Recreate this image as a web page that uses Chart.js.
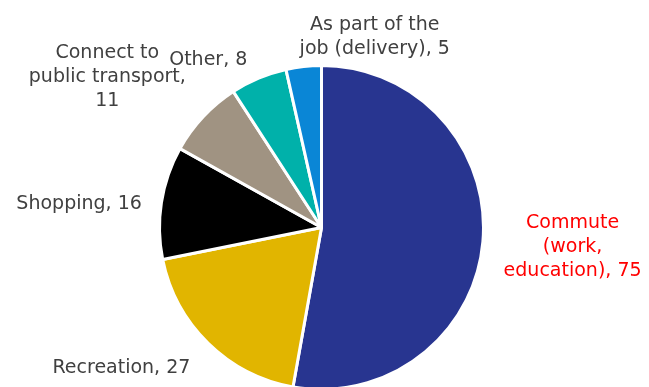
<!DOCTYPE html>
<html>
<head>
<meta charset="utf-8">
<script src="https://cdn.jsdelivr.net/npm/chart.js@4"></script>
<style>
  html, body { margin: 0; padding: 0; background: #fff; overflow: hidden; }
  #wrap { width: 649px; height: 387px; overflow: hidden; }
</style>
</head>
<body>
<div id="wrap"><canvas id="myChart" width="649" height="400"></canvas></div>
<script>
const categories = [
    'Commute (work, education)',
    'Recreation',
    'Shopping',
    'Connect to public transport',
    'Other',
    'As part of the job (delivery)'
];
const trips = [75, 27, 16, 11, 8, 5];
const sliceColors = ['#283590', '#E1B500', '#000000', '#A09382', '#00B1AA', '#0A86D6'];

// label text lines, broken the way they are drawn
const labelLines = [
    ['Commute', '(work,', 'education), 75'],
    ['Recreation, 27'],
    ['Shopping, 16'],
    ['Connect to', 'public transport,', '11'],
    ['Other, 8'],
    ['As part of the', 'job (delivery), 5']
];
// label anchor: offset from slice mid-angle point on the rim
const labelPlace = [
    { r: 72, dx: 18, dy: -1 },
    { r: 14, dx: -77, dy: 15 },
    { r: 55, dx: -28, dy: 10 },
    { r: 30, dx: -74, dy: -19 },
    { r: 32, dx: -38, dy: 11 },
    { r: 26, dx: 74, dy: -4 }
];

const sliceLabels = {
    id: 'sliceLabels',
    afterDatasetsDraw(chart) {
        const c = chart.ctx;
        const meta = chart.getDatasetMeta(0);
        c.save();
        c.font = '19px "DejaVu Sans", sans-serif';
        c.textAlign = 'center';
        c.textBaseline = 'middle';
        meta.data.forEach((arc, i) => {
            const p = arc.getProps(['x', 'y', 'startAngle', 'endAngle', 'outerRadius']);
            const mid = (p.startAngle + p.endAngle) / 2;
            const pl = labelPlace[i];
            const rr = p.outerRadius + pl.r;
            let x = p.x + Math.cos(mid) * rr + pl.dx;
            let y = p.y + Math.sin(mid) * rr + pl.dy;
            const lines = labelLines[i];
            const lh = 24;
            c.fillStyle = i === 0 ? '#FF0000' : '#404040';
            lines.forEach((t, k) => {
                c.fillText(t, x, y + (k - (lines.length - 1) / 2) * lh);
            });
        });
        c.restore();
    }
};

const ctx = document.getElementById('myChart');

new Chart(ctx, {
    type: 'pie',
    data: {
        labels: categories,
        datasets: [{
            data: trips,
            backgroundColor: sliceColors,
            borderColor: '#ffffff',
            borderWidth: 3
        }]
    },
    options: {
        responsive: false,
        animation: false,
        layout: {
            padding: { top: 64, bottom: 9, left: 158, right: 164 }
        },
        plugins: {
            legend: { display: false },
            tooltip: { enabled: false }
        }
    },
    plugins: [sliceLabels]
});
</script>
</body>
</html>
